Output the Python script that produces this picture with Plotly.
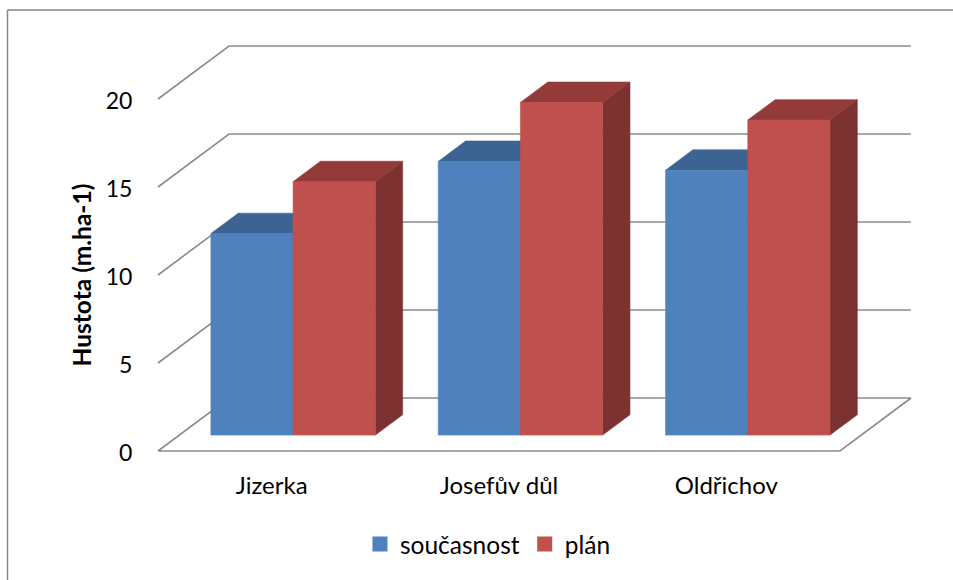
import plotly.graph_objects as go

# Data
categories = ["Jizerka", "Josefův důl", "Oldřichov"]
soucasnost = [11.45, 15.55, 15.05]
plan = [14.4, 18.9, 17.9]
value_ticks = [0, 5, 10, 15, 20]

BLUE_FRONT, BLUE_TOP, BLUE_SIDE = "#4f81bd", "#3c6391", "#335a85"
RED_FRONT, RED_TOP, RED_SIDE = "#c0504d", "#923b39", "#7b3231"
GRID = "#8c8c8c"
FONT = "Lato"

# Page geometry of the 3D box, in pixels
W, H = 953, 580
LEFT, RIGHT, FLOOR, TOP = 158.0, 840.0, 451.0, 99.0
CAT_PX = (RIGHT - LEFT) / 3
VAL_PX = (FLOOR - TOP) / 20
WALL_DX = 71.0 / CAT_PX      # depth of the box along x, in category units
WALL_DY = 53.0 / VAL_PX      # depth of the box along y, in value units
BAR_START, BAR_DEPTH = 0.30, 0.385   # fractions of the box depth
BAR_W = 82.2 / CAT_PX
BAR_INSET = 31.6 / CAT_PX


def project(x, v, depth):
    """Oblique projection: category position, value and depth fraction to plot coordinates."""
    return x + depth * WALL_DX, v + depth * WALL_DY


def poly(points, color):
    xs, ys = zip(*points)
    return go.Scatter(
        x=list(xs) + [xs[0]], y=list(ys) + [ys[0]], xaxis="x2", yaxis="y2",
        mode="lines", fill="toself", fillcolor=color,
        line=dict(color=color, width=0.6),
        hoverinfo="skip", showlegend=False,
    )


def box(x0, value, colors):
    """Return the side, top and front faces of one bar."""
    front, top, side = colors
    x1 = x0 + BAR_W
    d0, d1 = BAR_START, BAR_START + BAR_DEPTH
    return [
        poly([project(x1, 0, d0), project(x1, 0, d1), project(x1, value, d1), project(x1, value, d0)], side),
        poly([project(x0, value, d0), project(x1, value, d0), project(x1, value, d1), project(x0, value, d1)], top),
        poly([project(x0, 0, d0), project(x1, 0, d0), project(x1, value, d0), project(x0, value, d0)], front),
    ]


fig = go.Figure()

# Invisible trace that keeps the front axes (tick labels) alive
fig.add_trace(go.Scatter(x=categories, y=[None] * 3, mode="markers", showlegend=False, hoverinfo="skip"))

# Grid of the box: walls and floor
for v in value_ticks:
    pts = [project(0, v, 0), project(0, v, 1), project(3, v, 1)]
    if v == 0:
        pts += [project(3, v, 0), project(0, v, 0)]
    fig.add_trace(go.Scatter(
        x=[p[0] for p in pts], y=[p[1] for p in pts], xaxis="x2", yaxis="y2",
        mode="lines", line=dict(color=GRID, width=1.6), hoverinfo="skip", showlegend=False,
    ))

# Bars, left to right within each category
for i in range(len(categories)):
    x_blue = i + BAR_INSET
    x_red = x_blue + BAR_W
    for tr in box(x_blue, soucasnost[i], (BLUE_FRONT, BLUE_TOP, BLUE_SIDE)):
        fig.add_trace(tr)
    for tr in box(x_red, plan[i], (RED_FRONT, RED_TOP, RED_SIDE)):
        fig.add_trace(tr)

# Legend entries
for name, color in (("současnost", BLUE_FRONT), ("plán", RED_FRONT)):
    fig.add_trace(go.Scatter(
        x=[None], y=[None], xaxis="x2", yaxis="y2", name=name, mode="markers",
        marker=dict(symbol="square", size=15, color=color),
    ))

fig.update_layout(
    width=W, height=H, autosize=False,
    margin=dict(l=0, r=0, t=0, b=0, autoexpand=False),
    paper_bgcolor="white", plot_bgcolor="rgba(0,0,0,0)",
    font=dict(family=FONT, size=23, color="#000000"),
    xaxis=dict(
        domain=[LEFT / W, RIGHT / W], type="category", range=[-0.5, 2.5],
        categoryorder="array", categoryarray=categories, showgrid=False, zeroline=False, showline=False,
        ticks="outside", ticklen=13, tickcolor="rgba(0,0,0,0)", tickfont=dict(size=24), anchor="y",
    ),
    yaxis=dict(
        domain=[1 - FLOOR / H, 1 - TOP / H], range=[0, 20], tickvals=value_ticks,
        showgrid=False, zeroline=False, showline=False,
        ticks="outside", ticklen=20, tickcolor="rgba(0,0,0,0)", tickfont=dict(size=23), anchor="x",
        ticklabelshift=2,
        title=dict(text="<b>Hustota (m.ha-1)</b>", font=dict(family=FONT, size=24.5), standoff=7),
    ),
    xaxis2=dict(
        domain=[0, 1], range=[-LEFT / CAT_PX, (W - LEFT) / CAT_PX],
        anchor="y2", visible=False,
    ),
    yaxis2=dict(
        domain=[0, 1], range=[-(H - FLOOR) / VAL_PX, FLOOR / VAL_PX],
        anchor="x2", visible=False,
    ),
    legend=dict(
        orientation="h", x=0.512, xanchor="center", y=0.062, yanchor="middle",
        font=dict(family=FONT, size=24.5), itemwidth=30, bgcolor="rgba(0,0,0,0)",
    ),
    shapes=[
        dict(type="line", xref="paper", yref="paper", x0=7.5 / W, x1=7.5 / W, y0=0, y1=1 - 10 / H,
             line=dict(color="#868686", width=1.5)),
        dict(type="line", xref="paper", yref="paper", x0=7.5 / W, x1=1, y0=1 - 10 / H, y1=1 - 10 / H,
             line=dict(color="#868686", width=1.5)),
    ],
)

fig.write_html("out.html")
